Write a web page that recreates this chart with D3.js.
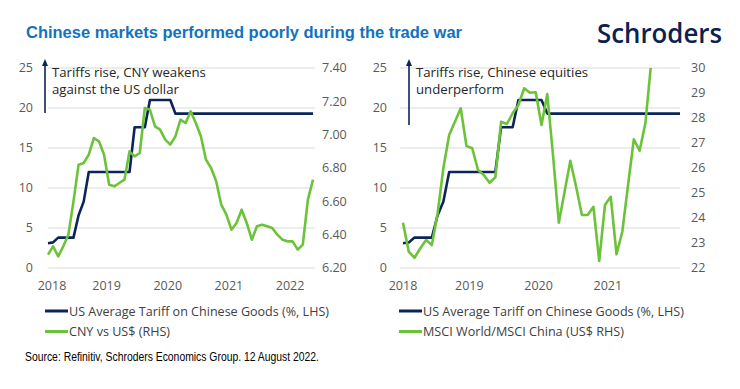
<!DOCTYPE html>
<html>
<head>
<meta charset="utf-8">
<script src="https://cdn.jsdelivr.net/npm/d3@7"></script>
<style>
  body { margin: 0; background: #fff; }
  svg { display: block; }
</style>
</head>
<body>
<svg width="740" height="389"></svg>
<script>
// Datos mensuales desde enero 2018
const yearLabels = ["2018", "2019", "2020", "2021", "2022"];

// Arancel medio de EE.UU. a productos chinos (%), grafico izquierdo (ene 2018 - may 2022)
const tariffLeft = [3.1, 3.2, 3.8, 3.8, 3.8, 3.8, 6.6, 8.3, 12.0, 12.0,
  12.0, 12.0, 12.0, 12.0, 12.0, 12.0, 12.0, 17.6, 17.6, 17.6,
  21.0, 21.0, 21.0, 21.0, 21.0, 19.3, 19.3, 19.3, 19.3, 19.3,
  19.3, 19.3, 19.3, 19.3, 19.3, 19.3, 19.3, 19.3, 19.3, 19.3,
  19.3, 19.3, 19.3, 19.3, 19.3, 19.3, 19.3, 19.3, 19.3, 19.3,
  19.3, 19.3, 19.3];

// CNY por US$
const cny = [6.28, 6.33, 6.27, 6.33, 6.40, 6.60, 6.82, 6.83, 6.88, 6.98,
  6.96, 6.88, 6.70, 6.69, 6.71, 6.73, 6.90, 6.87, 6.89, 7.16,
  7.15, 7.05, 7.03, 6.97, 6.94, 6.99, 7.09, 7.07, 7.14, 7.07,
  6.99, 6.85, 6.80, 6.72, 6.58, 6.52, 6.43, 6.47, 6.55, 6.47,
  6.37, 6.45, 6.46, 6.45, 6.44, 6.40, 6.37, 6.36, 6.36, 6.31,
  6.34, 6.61, 6.73];

// Grafico derecho (ene 2018 - ene 2022)
const tariffRight = [3.1, 3.2, 3.8, 3.8, 3.8, 3.8, 6.6, 8.3, 12.0, 12.0,
  12.0, 12.0, 12.0, 12.0, 12.0, 12.0, 12.0, 17.6, 17.6, 17.6,
  21.0, 21.0, 21.0, 21.0, 21.0, 19.3, 19.3, 19.3, 19.3, 19.3,
  19.3, 19.3, 19.3, 19.3, 19.3, 19.3, 19.3, 19.3, 19.3, 19.3,
  19.3, 19.3, 19.3, 19.3, 19.3, 19.3, 19.3, 19.3, 19.3];

// MSCI World / MSCI China (US$)
const msci = [23.81, 22.65, 22.41, 22.79, 23.12, 22.92, 24.19, 26.0, 27.32, 27.85,
  28.39, 26.88, 26.79, 25.92, 25.72, 25.41, 25.63, 27.85, 27.76, 28.19,
  28.52, 29.19, 29.01, 29.03, 27.72, 28.96, 26.5, 23.81, 25.05, 26.29,
  25.25, 24.12, 24.12, 24.45, 22.28, 24.52, 24.85, 22.55, 23.45, 25.32,
  27.15, 26.69, 27.79, 30.2];

const lhsTicks = [0, 5, 10, 15, 20, 25];
const cnyTicks = [6.20, 6.40, 6.60, 6.80, 7.00, 7.20, 7.40];
const msciTicks = [22, 23, 24, 25, 26, 27, 28, 29, 30];

const NAVY = "#0b2559";
const GREEN = "#6cc33a";
const GRID = "#d9d9d9";
const TICK = "#595959";

const svg = d3.select("svg");

// Titulo y logo
svg.append("text")
  .attr("x", 26).attr("y", 38)
  .attr("font-family", "Liberation Sans, Arial, sans-serif")
  .attr("font-weight", "bold")
  .attr("font-size", 16)
  .attr("fill", "#1272be")
  .attr("textLength", 436)
  .attr("lengthAdjust", "spacingAndGlyphs")
  .text("Chinese markets performed poorly during the trade war");

svg.append("text")
  .attr("x", 597).attr("y", 43)
  .attr("font-family", "Open Sans, sans-serif")
  .attr("font-weight", 600)
  .attr("font-size", 27)
  .attr("fill", "#0d2151")
  .attr("textLength", 125)
  .attr("lengthAdjust", "spacingAndGlyphs")
  .text("Schroders");

// Dibuja un panel con eje izquierdo (arancel) y eje derecho
function panel(opts) {
  const g = svg.append("g");
  const x = d3.scaleLinear().domain([0, opts.tariff.length - 1]).range(opts.xRange);
  const yL = d3.scaleLinear().domain([0, 25]).range([268, 68]);
  const yR = d3.scaleLinear().domain(opts.rDomain).range([268, 68]);

  // lineas de cuadricula
  g.selectAll(".grid").data(lhsTicks).enter().append("line")
    .attr("x1", opts.gridRange[0]).attr("x2", opts.gridRange[1])
    .attr("y1", d => yL(d)).attr("y2", d => yL(d))
    .attr("stroke", GRID).attr("stroke-width", 1);

  // etiquetas eje izquierdo
  g.selectAll(".lt").data(lhsTicks).enter().append("text")
    .attr("x", opts.leftLabelX).attr("y", d => yL(d)).attr("dy", "0.35em")
    .attr("text-anchor", "end")
    .attr("font-family", "Open Sans, sans-serif").attr("font-size", 12.5)
    .attr("fill", TICK).text(d => d);

  // etiquetas eje derecho
  g.selectAll(".rt").data(opts.rTicks).enter().append("text")
    .attr("x", opts.rightLabelX).attr("y", d => yR(d)).attr("dy", "0.35em")
    .attr("font-family", "Open Sans, sans-serif").attr("font-size", 12.5)
    .attr("fill", TICK).text(d => opts.rFormat(d));

  // etiquetas de anos
  g.selectAll(".xt").data(opts.years).enter().append("text")
    .attr("x", (d, i) => x(Math.max(0, i * 12 - 0.5)) + (i === 0 ? opts.firstShift : 0))
    .attr("y", 290)
    .attr("text-anchor", "middle")
    .attr("font-family", "Open Sans, sans-serif").attr("font-size", 12.5)
    .attr("fill", TICK).text(d => d);

  const clipId = "clip" + opts.id;
  svg.append("clipPath").attr("id", clipId).append("rect")
    .attr("x", opts.gridRange[0] - 5).attr("y", 68)
    .attr("width", opts.gridRange[1] - opts.gridRange[0] + 10).attr("height", 205);

  g.append("path")
    .datum(opts.tariff)
    .attr("fill", "none").attr("stroke", NAVY).attr("stroke-width", 2.6)
    .attr("stroke-linejoin", "round")
    .attr("d", d3.line().x((d, i) => x(i)).y(d => yL(d)));

  g.append("path")
    .datum(opts.green)
    .attr("clip-path", "url(#" + clipId + ")")
    .attr("fill", "none").attr("stroke", GREEN).attr("stroke-width", 2.6)
    .attr("stroke-linejoin", "round")
    .attr("d", d3.line().x((d, i) => x(i)).y(d => yR(d)));

  // flecha de anotacion
  g.append("line")
    .attr("x1", opts.arrowX).attr("x2", opts.arrowX)
    .attr("y1", opts.arrowBottom).attr("y2", 64)
    .attr("stroke", NAVY).attr("stroke-width", 1.6);
  g.append("path")
    .attr("d", `M${opts.arrowX - 3},66 L${opts.arrowX},59 L${opts.arrowX + 3},66 Z`)
    .attr("fill", NAVY);

  opts.note.forEach((t, i) => {
    g.append("text")
      .attr("x", opts.arrowX + 7).attr("y", 77 + i * 16.5)
      .attr("font-family", "Open Sans, sans-serif").attr("font-size", 13.2)
      .attr("fill", "#262626").text(t);
  });

  // leyenda
  const legend = [
    { name: "US Average Tariff on Chinese Goods (%, LHS)", color: NAVY, w: opts.legendW[0] },
    { name: opts.greenName, color: GREEN, w: opts.legendW[1] }
  ];
  legend.forEach((l, i) => {
    const ly = 311 + i * 20.5;
    g.append("line")
      .attr("x1", opts.legendX).attr("x2", opts.legendX + 23)
      .attr("y1", ly).attr("y2", ly)
      .attr("stroke", l.color).attr("stroke-width", 3);
    g.append("text")
      .attr("x", opts.legendX + 24).attr("y", ly).attr("dy", "0.35em")
      .attr("font-family", "Open Sans, sans-serif").attr("font-size", 13)
      .attr("fill", "#404040")
      .attr("textLength", l.w).attr("lengthAdjust", "spacingAndGlyphs")
      .text(l.name);
  });
}

panel({
  id: "L",
  tariff: tariffLeft, green: cny,
  xRange: [48, 313], gridRange: [48, 315],
  rDomain: [6.2, 7.4], rTicks: cnyTicks, rFormat: d3.format(".2f"),
  leftLabelX: 33, rightLabelX: 322,
  years: yearLabels, firstShift: 4,
  arrowX: 45, arrowBottom: 113,
  note: ["Tariffs rise, CNY weakens", "against the US dollar"],
  greenName: "CNY vs US$ (RHS)",
  legendX: 45, legendW: [260, 101]
});

panel({
  id: "R",
  tariff: tariffRight, green: msci,
  xRange: [403, 680], gridRange: [400, 680],
  rDomain: [22, 30], rTicks: msciTicks, rFormat: d => d,
  leftLabelX: 387, rightLabelX: 691,
  years: yearLabels.slice(0, 4), firstShift: 0,
  arrowX: 409, arrowBottom: 125,
  note: ["Tariffs rise, Chinese equities", "underperform"],
  greenName: "MSCI World/MSCI China (US$ RHS)",
  legendX: 399, legendW: [261, 201]
});

// Fuente
svg.append("text")
  .attr("x", 25).attr("y", 361)
  .attr("font-family", "Liberation Sans Narrow, Arial Narrow, Liberation Sans, sans-serif")
  .attr("font-size", 12)
  .attr("fill", "#000")
  .attr("textLength", 294)
  .attr("lengthAdjust", "spacingAndGlyphs")
  .text("Source: Refinitiv, Schroders Economics Group. 12 August 2022.");
</script>
</body>
</html>
